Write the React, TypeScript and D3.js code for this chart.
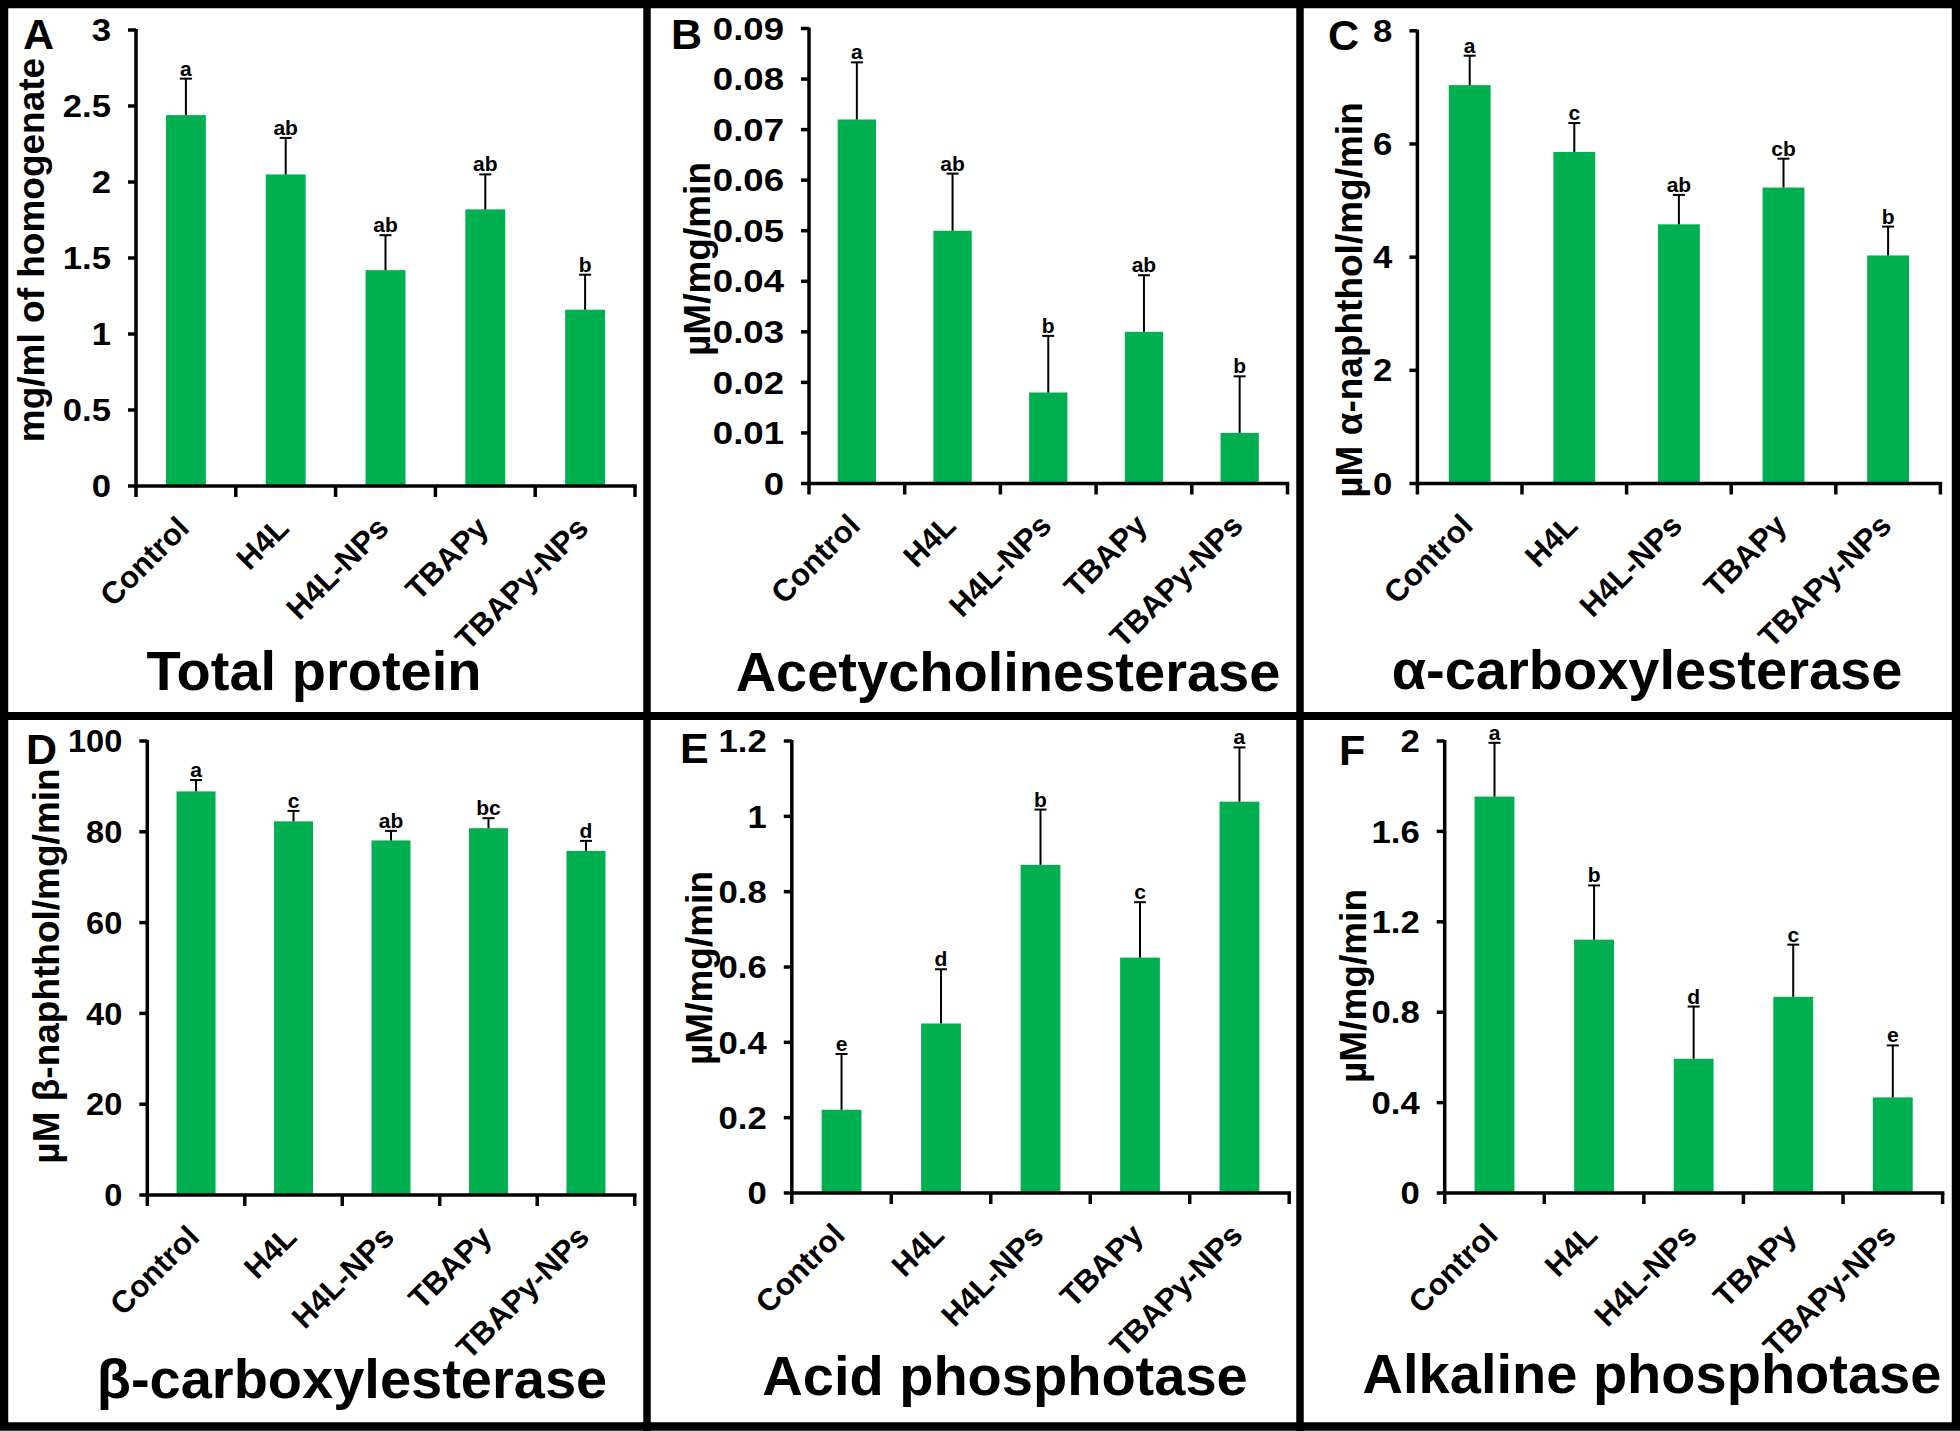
import React from "react";
import * as d3 from "d3";

// ---------------- DATA ----------------
const categories = ["Control", "H4L", "H4L-NPs", "TBAPy", "TBAPy-NPs"];

const totalProteinMeans = [2.44, 2.05, 1.42, 1.82, 1.16];
const totalProteinErrors = [0.24, 0.24, 0.23, 0.23, 0.23];
const totalProteinLetters = ["a", "ab", "ab", "ab", "b"];
const totalProteinTicks = [0, 0.5, 1, 1.5, 2, 2.5, 3];
const totalProteinTickLabels = ["0", "0.5", "1", "1.5", "2", "2.5", "3"];

const acheMeans = [0.072, 0.05, 0.018, 0.03, 0.01];
const acheErrors = [0.0113, 0.0113, 0.0112, 0.0112, 0.0112];
const acheLetters = ["a", "ab", "b", "ab", "b"];
const acheTicks = [0, 0.01, 0.02, 0.03, 0.04, 0.05, 0.06, 0.07, 0.08, 0.09];
const acheTickLabels = ["0", "0.01", "0.02", "0.03", "0.04", "0.05", "0.06", "0.07", "0.08", "0.09"];

const alphaMeans = [7.04, 5.86, 4.58, 5.23, 4.03];
const alphaErrors = [0.52, 0.51, 0.52, 0.51, 0.51];
const alphaLetters = ["a", "c", "ab", "cb", "b"];
const alphaTicks = [0, 2, 4, 6, 8];
const alphaTickLabels = ["0", "2", "4", "6", "8"];

const betaMeans = [88.9, 82.3, 78.1, 80.8, 75.8];
const betaErrors = [2.5, 2.3, 2.1, 2.2, 2.2];
const betaLetters = ["a", "c", "ab", "bc", "d"];
const betaTicks = [0, 20, 40, 60, 80, 100];
const betaTickLabels = ["0", "20", "40", "60", "80", "100"];

const acidMeans = [0.221, 0.45, 0.871, 0.625, 1.039];
const acidErrors = [0.148, 0.144, 0.147, 0.147, 0.144];
const acidLetters = ["e", "d", "b", "c", "a"];
const acidTicks = [0, 0.2, 0.4, 0.6, 0.8, 1, 1.2];
const acidTickLabels = ["0", "0.2", "0.4", "0.6", "0.8", "1", "1.2"];

const alkMeans = [1.754, 1.121, 0.594, 0.868, 0.423];
const alkErrors = [0.238, 0.24, 0.231, 0.231, 0.23];
const alkLetters = ["a", "b", "d", "c", "e"];
const alkTicks = [0, 0.4, 0.8, 1.2, 1.6, 2];
const alkTickLabels = ["0", "0.4", "0.8", "1.2", "1.6", "2"];

const panelLetters = ["A", "B", "C", "D", "E", "F"];
const panelTitles = [
  "Total protein",
  "Acetycholinesterase",
  "α-carboxylesterase",
  "β-carboxylesterase",
  "Acid phosphotase",
  "Alkaline phosphotase",
];
const yAxisTitles = [
  "mg/ml of homogenate",
  "µM/mg/min",
  "µM α-naphthol/mg/min",
  "µM β-naphthol/mg/min",
  "µM/mg/min",
  "µM/mg/min",
];

const panelData = [
  { means: totalProteinMeans, errors: totalProteinErrors, letters: totalProteinLetters, ticks: totalProteinTicks, tickLabels: totalProteinTickLabels, max: 3 },
  { means: acheMeans, errors: acheErrors, letters: acheLetters, ticks: acheTicks, tickLabels: acheTickLabels, max: 0.09 },
  { means: alphaMeans, errors: alphaErrors, letters: alphaLetters, ticks: alphaTicks, tickLabels: alphaTickLabels, max: 8 },
  { means: betaMeans, errors: betaErrors, letters: betaLetters, ticks: betaTicks, tickLabels: betaTickLabels, max: 100 },
  { means: acidMeans, errors: acidErrors, letters: acidLetters, ticks: acidTicks, tickLabels: acidTickLabels, max: 1.2 },
  { means: alkMeans, errors: alkErrors, letters: alkLetters, ticks: alkTicks, tickLabels: alkTickLabels, max: 2 },
];

// ---------------- LAYOUT ----------------
const W = 1960;
const H = 1431;
const layouts = [
  { x0: 136, x1: 635, yTop: 30, yZero: 486, lx: 23, ly: 49, ytx: 44, yty: 250, tcx: 314, tby: 690, sx: 1.12 },
  { x0: 809, x1: 1287.5, yTop: 28.5, yZero: 483.5, lx: 671, ly: 49, ytx: 710, yty: 259, tcx: 1008, tby: 691, sx: 1.18 },
  { x0: 1417.4, x1: 1940.4, yTop: 30.8, yZero: 483.5, lx: 1328, ly: 50, ytx: 1362, yty: 300, tcx: 1647, tby: 689, sx: 1.12 },
  { x0: 147.3, x1: 634.7, yTop: 741, yZero: 1195, lx: 26, ly: 764, ytx: 59, yty: 966, tcx: 352, tby: 1398, sx: 1.05 },
  { x0: 791.8, x1: 1289.2, yTop: 741, yZero: 1193, lx: 680, ly: 763, ytx: 712, yty: 968, tcx: 1005, tby: 1395, sx: 1.12 },
  { x0: 1444.7, x1: 1942.6, yTop: 741, yZero: 1193, lx: 1339, ly: 765, ytx: 1366, yty: 986, tcx: 1652, tby: 1393, sx: 1.12 },
];

const FONT = "'Liberation Sans', Arial, Helvetica, sans-serif";
const GREEN = "#00B050";

function Panel({ idx }: { idx: number }) {
  const d = panelData[idx];
  const L = layouts[idx];
  const x = d3.scaleBand<string>().domain(categories).range([L.x0, L.x1]).paddingInner(0.6).paddingOuter(0.3);
  const y = d3.scaleLinear().domain([0, d.max]).range([L.yZero, L.yTop]);
  const step = x.step();
  const bw = x.bandwidth();
  const boundaries = d3.range(categories.length + 1).map((i) => L.x0 + i * step);
  const capHalf = 6;
  const labelRight = L.x0 - 25;
  return (
    <g>
      {/* bars */}
      {categories.map((c, i) => (
        <rect key={"b" + i} x={x(c)} y={y(d.means[i])} width={bw} height={y(0) - y(d.means[i])} fill={GREEN} />
      ))}
      {/* error bars */}
      {categories.map((c, i) => {
        const cx = (x(c) as number) + bw / 2;
        const yt = y(d.means[i] + d.errors[i]);
        return (
          <g key={"e" + i} stroke="#000" strokeWidth={2}>
            <line x1={cx} x2={cx} y1={y(d.means[i])} y2={yt} />
            <line x1={cx - capHalf} x2={cx + capHalf} y1={yt} y2={yt} />
          </g>
        );
      })}
      {/* significance letters */}
      {categories.map((c, i) => {
        const cx = (x(c) as number) + bw / 2;
        const yt = y(d.means[i] + d.errors[i]);
        return (
          <text key={"s" + i} x={cx} y={yt - 3} textAnchor="middle" fontFamily={FONT} fontWeight="bold" fontSize={21} fill="#000">
            {d.letters[i]}
          </text>
        );
      })}
      {/* y axis */}
      <line x1={L.x0} x2={L.x0} y1={L.yTop - 1} y2={L.yZero} stroke="#000" strokeWidth={3.5} />
      {d.ticks.map((t, i) => (
        <g key={"yt" + i}>
          <line x1={L.x0 - 8} x2={L.x0} y1={y(t)} y2={y(t)} stroke="#000" strokeWidth={3.5} />
          <text
            x={0}
            y={0}
            dy="0.36em"
            textAnchor="end"
            transform={`translate(${labelRight} ${y(t)}) scale(${L.sx} 1)`}
            fontFamily={FONT}
            fontWeight="bold"
            fontSize={31}
            fill="#000"
          >
            {d.tickLabels[i]}
          </text>
        </g>
      ))}
      {/* x axis */}
      <line x1={L.x0 - 1.75} x2={L.x1 + 1.75} y1={L.yZero} y2={L.yZero} stroke="#000" strokeWidth={3.5} />
      {boundaries.map((bx, i) => (
        <line key={"xt" + i} x1={bx} x2={bx} y1={L.yZero} y2={L.yZero + 11} stroke="#000" strokeWidth={3.5} />
      ))}
      {categories.map((c, i) => {
        const cx = (x(c) as number) + bw / 2 + 5;
        const cy = L.yZero + 44;
        return (
          <text key={"xl" + i} x={cx} y={cy} textAnchor="end" transform={`rotate(-45 ${cx} ${cy})`} fontFamily={FONT} fontWeight="bold" fontSize={31} fill="#000">
            {c}
          </text>
        );
      })}
      {/* y title */}
      <text x={L.ytx} y={L.yty} textAnchor="middle" transform={`rotate(-90 ${L.ytx} ${L.yty})`} fontFamily={FONT} fontWeight="bold" fontSize={37} fill="#000">
        {yAxisTitles[idx]}
      </text>
      {/* panel letter */}
      <text x={L.lx} y={L.ly} fontFamily={FONT} fontWeight="bold" fontSize={43} fill="#000">
        {panelLetters[idx]}
      </text>
      {/* panel title */}
      <text x={L.tcx} y={L.tby} textAnchor="middle" fontFamily={FONT} fontWeight="bold" fontSize={56} fill="#000">
        {panelTitles[idx]}
      </text>
    </g>
  );
}

export default function App() {
  return (
    <div style={{ position: "absolute", left: 0, top: 0 }}>
      <svg width={W} height={H} viewBox={`0 0 ${W} ${H}`} style={{ display: "block", background: "#fff" }}>
        <rect x={0} y={0} width={W} height={H} fill="#fff" />
        {panelData.map((_, i) => (
          <Panel key={i} idx={i} />
        ))}
        {/* frame */}
        <rect x={4} y={4} width={W - 8} height={H - 8.5} fill="none" stroke="#000" strokeWidth={8.5} />
        <line x1={647} x2={647} y1={0} y2={H} stroke="#000" strokeWidth={7.5} />
        <line x1={1300} x2={1300} y1={0} y2={H} stroke="#000" strokeWidth={7.5} />
        <line x1={0} x2={W} y1={716} y2={716} stroke="#000" strokeWidth={8} />
      </svg>
    </div>
  );
}
